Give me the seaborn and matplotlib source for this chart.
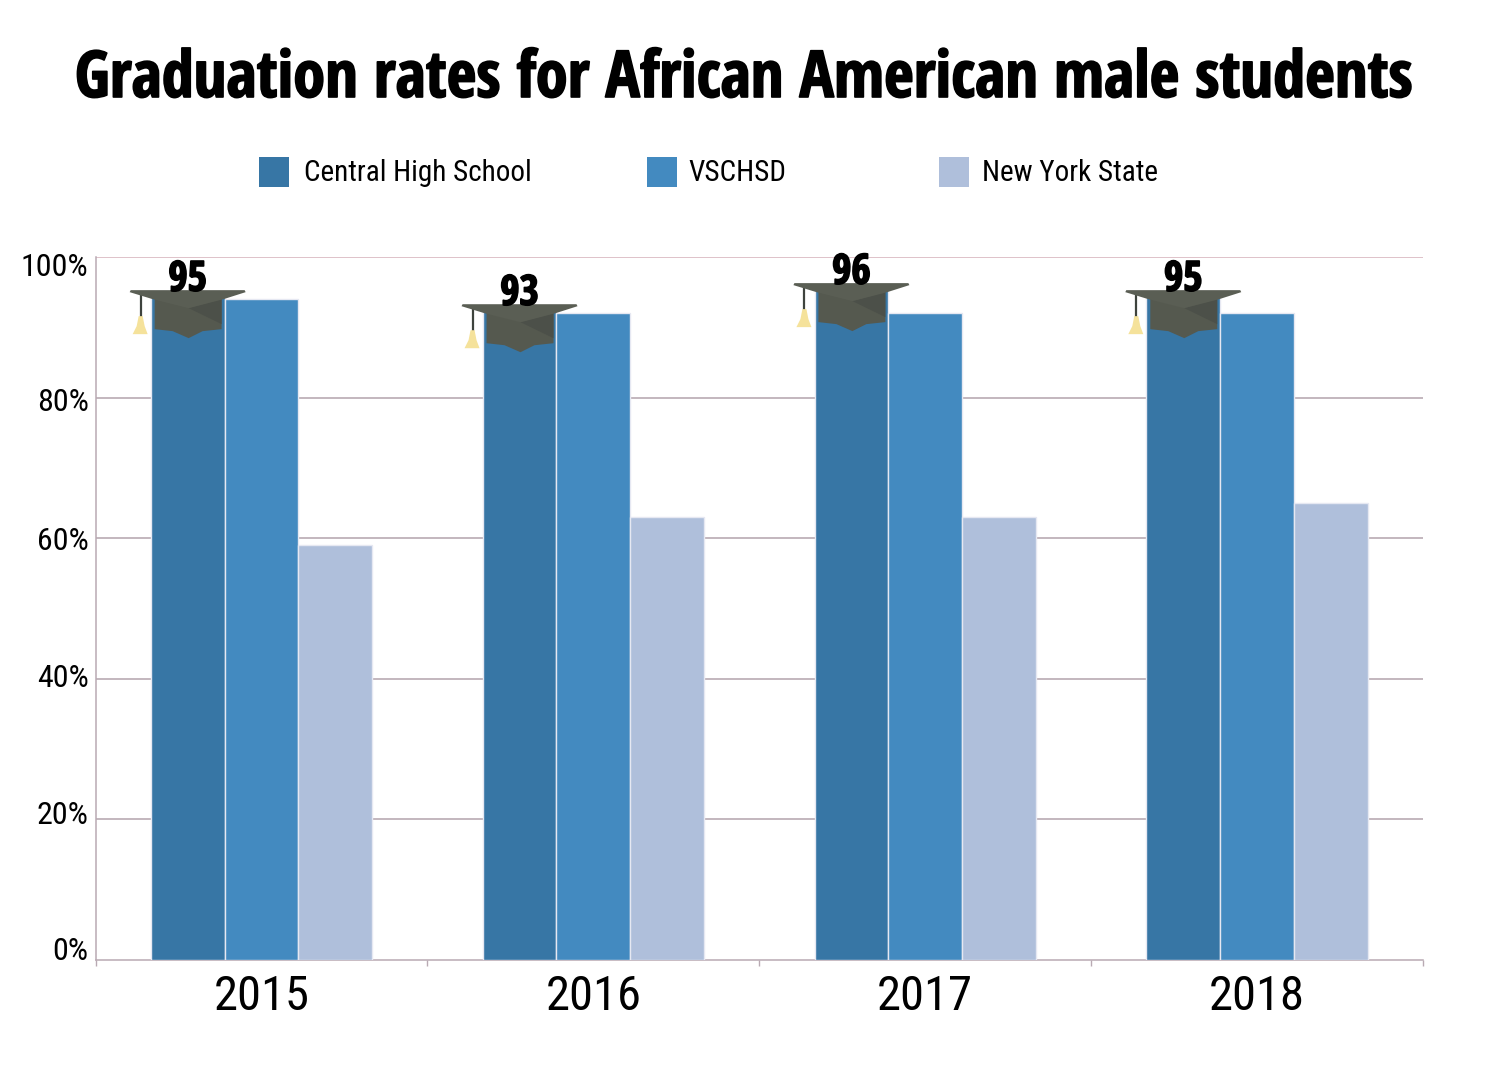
import pandas as pd
import matplotlib
matplotlib.use("Agg")
import matplotlib.pyplot as plt
import matplotlib.patheffects as pe
from matplotlib.patches import Polygon, Rectangle
from matplotlib.transforms import ScaledTranslation
import seaborn as sns

years = ["2015", "2016", "2017", "2018"]
central = [95, 93, 96, 95]
vschsd = [94, 92, 92, 92]
new_york = [59, 63, 63, 65]
schools = ["Central High School", "VSCHSD", "New York State"]
colors = ["#3776A5", "#438AC0", "#AFBFDB"]
y_ticks = [0, 20, 40, 60, 80, 100]
y_labels = ["0%", "20%", "40%", "60%", "80%", "100%"]
label_nudge = [12, 7, 3, 0, -2, -8]  # подписи оси не совпадают с сеткой

df = pd.DataFrame({
    "year": years * 3,
    "school": [s for s in schools for _ in years],
    "rate": central + vschsd + new_york,
})

sns.set_theme(style="white")
plt.rcParams["font.family"] = ["Roboto Condensed", "DejaVu Sans"]
heavy_font = ["Open Sans Condensed", "DejaVu Sans"]

W, H = 1500, 1067
fig = plt.figure(figsize=(W / 100, H / 100), dpi=100)
ax = fig.add_axes([95.5 / W, 1 - 960 / H, (1423 - 95.5) / W, 703 / H])

sns.barplot(data=df, x="year", y="rate", hue="school", palette=colors, saturation=1,
            width=0.667, gap=0, edgecolor="#E6E8F2", linewidth=1, legend=False, ax=ax, zorder=3)

ax.set_xlim(-0.5, 3.5)
ax.set_ylim(0, 100)
ax.set_xlabel("")
ax.set_ylabel("")

# Сетка и оси
grid_color = "#B9AAB3"
ax.set_yticks(y_ticks, y_labels)
for v in y_ticks[1:]:
    ax.axhline(v, color="#D9B8C0" if v == 100 else grid_color, lw=1.2, zorder=1)
for side in ["top", "right"]:
    ax.spines[side].set_visible(False)
for side in ["left", "bottom"]:
    ax.spines[side].set_color(grid_color)
    ax.spines[side].set_linewidth(1.1)
ax.set_xticks(range(4), years)
ax.set_xticks([-0.5, 0.5, 1.5, 2.5, 3.5], minor=True)
ax.tick_params(axis="x", which="major", length=0, labelsize=35, pad=10, labelcolor="black")
ax.tick_params(axis="x", which="minor", bottom=True, length=4, width=1, color=grid_color)
ax.tick_params(axis="y", length=0, labelsize=23, pad=5, labelcolor="black")
for label, nudge in zip(ax.get_yticklabels(), label_nudge):
    label.set_transform(label.get_transform() + ScaledTranslation(0, nudge / 100, fig.dpi_scale_trans))

# Шапочка: контуры в пикселях от центра столбика и его верха
px_x = 1 / 332
px_y = 100 / 703


def shape(points, x0, top):
    return [(x0 + x * px_x, top - y * px_y) for x, y in points]


brim = [(-57, -2), (57, -2), (58, 0), (36, 7), (1, 16), (-35, 7), (-58, 0)]
cap = [(-33, 5), (34, 5), (34, 37), (15, 39), (1, 46), (-15, 39), (-33, 37)]
cap_shade = [(1, 16), (34, 7), (34, 32)]
tassel = [(-49, 24), (-45, 24), (-43, 34), (-40, 42), (-55, 42), (-51, 34)]
bold_edge = [pe.withStroke(linewidth=1.2, foreground="black")]

for i, (year, value) in enumerate(zip(years, central)):
    x0 = ax.patches[i].get_x() + ax.patches[i].get_width() / 2
    ax.add_patch(Polygon(shape(cap, x0, value), color="#55594F", lw=0, zorder=4))
    ax.add_patch(Polygon(shape(cap_shade, x0, value), color="#4C5049", lw=0, zorder=5))
    ax.add_patch(Polygon(shape(brim, x0, value), color="#5A5E54", lw=0, zorder=6))
    ax.plot(*zip(*shape([(-47, 3), (-47, 25)], x0, value)), color="#3E433D", lw=1.6, zorder=4)
    ax.add_patch(Polygon(shape(tassel, x0, value), color="#F5E29B", lw=0, zorder=4))
    ax.annotate(str(value), (x0, value), xytext=(0, 1), textcoords="offset points", ha="center", va="baseline",
                fontsize=30, fontweight="bold", family=heavy_font, color="black", zorder=7, path_effects=bold_edge)

# Заголовок и легенда
fig.text(745 / W, 1 - 97 / H, "Graduation rates for African American male students", ha="center", va="baseline",
         fontsize=46.5, fontweight="bold", family=heavy_font, color="black", path_effects=bold_edge)

legend_x = [259, 647, 939]
text_x = [304, 688, 982]
for lx, tx, name, c in zip(legend_x, text_x, schools, colors):
    fig.add_artist(Rectangle((lx / W, 1 - 187 / H), 30 / W, 30 / H, transform=fig.transFigure, color=c, lw=0))
    fig.text(tx / W, 1 - 173 / H, name, ha="left", va="center", fontsize=21, color="black")

fig.savefig("out.png", dpi=100, facecolor="white")
